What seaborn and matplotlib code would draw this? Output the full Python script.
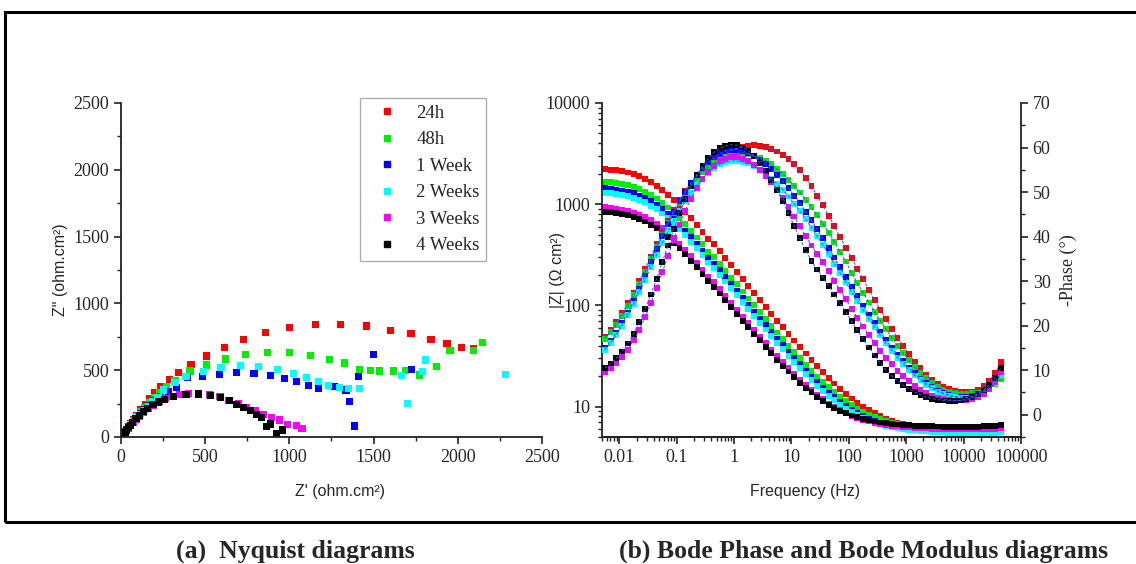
import numpy as np
import pandas as pd
import matplotlib
matplotlib.use('Agg')
import matplotlib.pyplot as plt
from matplotlib.lines import Line2D
from matplotlib.patches import Rectangle
from matplotlib.ticker import LogLocator, NullFormatter, MultipleLocator
import seaborn as sns

labels = ['24h', '48h', '1 Week', '2 Weeks', '3 Weeks', '4 Weeks']
colors = ['#ff0000', '#00ee00', '#0000ff', '#00ffff', '#ff00ff', '#000000']

# ---- Nyquist data (Z', Z'') ----
red_re = [6, 9, 13, 18, 25, 34, 45, 58, 74, 93, 116, 143, 170, 200, 236, 287, 344, 416, 507, 613,
          726, 857, 1000, 1154, 1306, 1457, 1600, 1722, 1841, 1936, 2023, 2096]
red_im = [3, 8, 15, 25, 39, 56, 77, 101, 130, 164, 203, 245, 285, 330, 377, 432, 481, 544, 606, 671,
          731, 783, 821, 843, 841, 831, 798, 773, 731, 699, 669, 664]
green_re = [6, 9, 13, 18, 25, 34, 45, 58, 74, 93, 115, 140, 167, 197, 230, 271, 321, 410, 509, 618,
            738, 871, 1000, 1124, 1237, 1330, 1415, 1483, 1534, 1617, 1690, 1770, 1875, 1954, 2092, 2148]
green_im = [3, 8, 14, 24, 37, 53, 73, 96, 123, 154, 188, 222, 258, 297, 336, 377, 421, 494, 539, 584,
            616, 634, 634, 609, 581, 554, 507, 501, 494, 494, 501, 464, 531, 644, 644, 706]
blue_re = [6, 9, 13, 18, 25, 34, 45, 58, 74, 93, 115, 140, 168, 200, 236, 280, 327, 394, 483, 584,
           687, 790, 887, 970, 1043, 1112, 1174, 1267, 1336, 1356, 1386, 1409, 1498, 1726]
blue_im = [3, 8, 14, 24, 37, 53, 72, 94, 119, 147, 177, 208, 239, 271, 303, 337, 372, 447, 452, 469,
           481, 477, 462, 437, 412, 387, 364, 377, 352, 267, 82, 452, 614, 507]
cyan_re = [6, 9, 13, 18, 25, 34, 45, 58, 74, 93, 114, 138, 163, 190, 220, 251, 321, 386, 489, 594,
           707, 819, 928, 1023, 1103, 1172, 1231, 1296, 1350, 1419, 1667, 1702, 1789, 1811, 2286]
cyan_im = [3, 8, 14, 23, 36, 51, 70, 91, 115, 142, 170, 200, 231, 262, 294, 352, 407, 452, 489, 519,
           534, 526, 507, 477, 447, 412, 387, 372, 364, 364, 457, 254, 492, 576, 469]
mag_re = [6, 9, 13, 18, 25, 34, 45, 57, 72, 90, 111, 135, 162, 192, 226, 263, 304, 350, 400, 460,
          528, 588, 637, 697, 746, 796, 845, 895, 944, 988, 1043, 1075]
mag_im = [3, 8, 14, 22, 34, 48, 65, 85, 107, 131, 157, 184, 211, 238, 263, 285, 303, 317, 326, 327,
          319, 302, 272, 247, 222, 195, 165, 145, 127, 95, 85, 65]
black_re = [6, 9, 13, 18, 24, 33, 44, 56, 71, 89, 110, 133, 160, 190, 222, 261, 311, 386, 463, 534,
            592, 647, 687, 730, 770, 806, 835, 865, 889, 924, 958]
black_im = [3, 8, 14, 23, 35, 50, 68, 88, 111, 136, 162, 189, 215, 240, 262, 281, 300, 318, 322, 312,
            297, 272, 242, 222, 195, 170, 147, 77, 97, 27, 52]

# ---- Bode data ----
freq = [0.00562, 0.00708, 0.00891,
        0.0112, 0.0141, 0.0178, 0.0224, 0.0282, 0.0355, 0.0447, 0.0562, 0.0708, 0.0891,
        0.112, 0.141, 0.178, 0.224, 0.282, 0.355, 0.447, 0.562, 0.708, 0.891,
        1.12, 1.41, 1.78, 2.24, 2.82, 3.55, 4.47, 5.62, 7.08, 8.91,
        11.2, 14.1, 17.8, 22.4, 28.2, 35.5, 44.7, 56.2, 70.8, 89.1,
        112, 141, 178, 224, 282, 355, 447, 562, 708, 891,
        1120, 1410, 1780, 2240, 2820, 3550, 4470, 5620, 7080, 8910,
        11200, 14100, 17800, 22400, 28200, 35500, 44700]

mod_24h = [2225, 2198, 2160, 2114, 2054, 1978, 1886, 1778, 1655, 1522,
           1381, 1238, 1099, 967, 842, 728, 625, 534, 453, 400,
           342, 293, 250, 214, 182, 155, 132.5, 113, 96.7, 82.7,
           70.7, 60.6, 52.2, 44.9, 38.7, 33.4, 28.9, 25.1, 21.9, 19.2,
           16.9, 15.0, 13.4, 12.0, 10.9, 9.96, 9.19, 8.55, 8.03, 7.60,
           7.24, 6.96, 6.72, 6.53, 6.37, 6.24, 6.13, 6.03, 5.96, 5.90,
           5.85, 5.81, 5.78, 5.76, 5.75, 5.75, 5.76, 5.78, 5.82, 5.88]
mod_48h = [1665, 1645, 1617, 1582, 1537, 1480, 1411, 1331, 1239, 1139,
           1034, 927, 823, 724, 631, 545, 468, 400, 340, 300,
           257, 220, 188, 161, 137, 117, 99.9, 85.4, 73.1, 62.6,
           53.9, 46.4, 40.0, 34.5, 29.9, 25.9, 22.6, 19.8, 17.5, 15.5,
           13.8, 12.4, 11.3, 10.3, 9.50, 8.85, 8.31, 7.86, 7.50, 7.21,
           6.96, 6.77, 6.60, 6.47, 6.36, 6.27, 6.19, 6.12, 6.06, 6.01,
           5.97, 5.94, 5.92, 5.90, 5.89, 5.89, 5.90, 5.91, 5.93, 5.96]
mod_1w = [1436, 1419, 1395, 1365, 1326, 1277, 1218, 1148, 1069, 983,
          892, 800, 710, 625, 544, 471, 404, 345, 293, 259,
          222, 190, 162, 139, 118, 101, 86.4, 73.8, 63.3, 54.4,
          46.8, 40.3, 34.7, 30.1, 26.1, 22.7, 19.8, 17.5, 15.4, 13.7,
          12.3, 11.1, 10.1, 9.31, 8.63, 8.07, 7.61, 7.25, 6.95, 6.70,
          6.48, 6.32, 6.17, 6.05, 5.95, 5.86, 5.79, 5.73, 5.68, 5.65,
          5.62, 5.60, 5.59, 5.58, 5.58, 5.58, 5.59, 5.60, 5.62, 5.65]
mod_2w = [1302, 1286, 1264, 1237, 1202, 1157, 1104, 1040, 968, 891,
          808, 724, 643, 566, 493, 426, 366, 313, 265, 234,
          201, 172, 147, 126, 107.5, 91.8, 78.5, 67.1, 57.7, 49.6,
          42.6, 36.8, 31.7, 27.5, 23.8, 20.8, 18.3, 16.1, 14.3, 12.8,
          11.5, 10.4, 9.52, 8.79, 8.19, 7.70, 7.28, 6.96, 6.68, 6.46,
          6.28, 6.13, 6.00, 5.89, 5.80, 5.72, 5.66, 5.61, 5.57, 5.54,
          5.51, 5.49, 5.48, 5.47, 5.47, 5.47, 5.48, 5.49, 5.51, 5.54]
mod_3w = [930, 918, 903, 883, 858, 827, 788, 743, 692, 636,
          578, 518, 460, 405, 353, 305, 262, 224, 191, 169,
          144, 123.5, 105.6, 90.6, 77.5, 66.3, 57.1, 49.1, 42.3, 36.5,
          31.5, 27.4, 23.9, 20.9, 18.3, 16.3, 14.5, 13.0, 11.8, 10.7,
          9.86, 9.16, 8.59, 8.11, 7.72, 7.40, 7.14, 6.93, 6.75, 6.60,
          6.47, 6.37, 6.28, 6.21, 6.15, 6.10, 6.06, 6.03, 6.00, 5.98,
          5.96, 5.95, 5.94, 5.94, 5.94, 5.95, 5.97, 6.00, 6.04, 6.10]
mod_4w = [843, 833, 819, 801, 778, 750, 715, 674, 627, 577,
          524, 470, 417, 367, 320, 277, 238, 204, 173, 153,
          131, 112.4, 96.2, 82.6, 70.7, 60.9, 52.2, 45.0, 38.8, 33.6,
          29.1, 25.4, 22.2, 19.5, 17.2, 15.3, 13.8, 12.5, 11.4, 10.4,
          9.69, 9.07, 8.56, 8.15, 7.81, 7.52, 7.30, 7.11, 6.96, 6.83,
          6.73, 6.64, 6.57, 6.51, 6.46, 6.42, 6.39, 6.36, 6.34, 6.32,
          6.31, 6.30, 6.30, 6.30, 6.31, 6.33, 6.36, 6.40, 6.45, 6.52]

ph_24h = [17.5, 19.0, 20.8, 22.8, 25.0, 27.4, 30.0, 32.7, 35.5, 38.3,
          41.0, 43.6, 46.0, 48.2, 50.2, 52.0, 53.6, 55.0, 56.2, 57.2,
          58.0, 58.7, 59.3, 59.8, 60.2, 60.4, 60.5, 60.4, 60.1, 59.7,
          59.1, 58.4, 57.5, 56.3, 54.9, 53.2, 51.3, 49.2, 47.0, 44.7,
          42.3, 39.9, 37.5, 35.2, 32.8, 30.4, 28.1, 25.8, 23.6, 21.4,
          19.3, 17.3, 15.4, 13.6, 11.9, 10.4, 9.0, 7.8, 6.9, 6.2,
          5.7, 5.4, 5.2, 5.1, 5.2, 5.6, 6.4, 7.6, 9.3, 11.8]
ph_48h = [17.0, 18.5, 20.2, 22.2, 24.4, 26.8, 29.4, 32.1, 34.9, 37.7,
          40.4, 43.0, 45.4, 47.6, 49.6, 51.4, 53.0, 54.4, 55.6, 56.6,
          57.4, 58.0, 58.4, 58.7, 58.8, 58.6, 58.2, 57.7, 57.0, 56.2,
          55.2, 54.1, 52.8, 51.4, 49.9, 48.3, 46.6, 44.8, 42.9, 40.9,
          38.8, 36.6, 34.4, 31.8, 29.6, 27.4, 25.2, 23.1, 21.1, 19.2,
          17.3, 15.5, 13.8, 12.2, 10.7, 9.4, 8.2, 7.2, 6.3, 5.6,
          5.1, 4.8, 4.7, 4.7, 4.8, 5.0, 5.4, 6.0, 6.8, 7.9]
ph_1w = [15.0, 16.6, 18.4, 20.5, 22.9, 25.5, 28.3, 31.2, 34.2, 37.2,
         40.1, 42.9, 45.5, 47.9, 50.1, 52.1, 53.9, 55.4, 56.7, 57.8,
         58.6, 59.2, 59.5, 59.5, 59.2, 58.7, 58.0, 57.2, 56.2, 55.1,
         53.8, 52.4, 50.9, 49.2, 47.5, 45.6, 43.7, 41.7, 39.6, 37.5,
         35.3, 33.1, 30.9, 28.7, 26.6, 24.5, 22.5, 20.5, 18.6, 16.8,
         15.1, 13.5, 12.0, 10.6, 9.3, 8.1, 7.1, 6.2, 5.4, 4.8,
         4.4, 4.1, 4.0, 4.0, 4.2, 4.6, 5.2, 6.1, 7.3, 9.0]
ph_2w = [14.5, 16.1, 17.9, 20.0, 22.3, 24.8, 27.5, 30.3, 33.1, 35.9,
         38.6, 41.2, 43.6, 45.8, 47.9, 49.8, 51.5, 53.0, 54.3, 55.4,
         56.2, 56.7, 57.0, 57.0, 56.8, 56.4, 55.8, 55.0, 54.1, 53.0,
         51.8, 50.5, 49.0, 47.4, 45.7, 43.9, 42.0, 40.1, 38.1, 36.0,
         33.9, 31.8, 29.7, 27.6, 25.5, 23.5, 21.5, 19.6, 17.8, 16.0,
         14.4, 12.8, 11.4, 10.0, 8.8, 7.7, 6.7, 5.9, 5.2, 4.6,
         4.2, 3.9, 3.8, 3.8, 4.0, 4.4, 5.0, 5.9, 7.1, 8.8]
ph_3w = [9.5, 10.4, 11.5, 12.9, 14.6, 16.7, 19.1, 21.9, 25.0, 28.4,
         32.0, 35.7, 39.3, 42.7, 45.8, 48.5, 50.9, 52.9, 54.6, 55.9,
         56.9, 57.5, 57.8, 57.8, 57.5, 56.9, 56.1, 55.0, 53.7, 52.2,
         50.5, 48.6, 46.6, 44.5, 42.3, 40.1, 38.0, 36.1, 34.2, 32.2,
         30.1, 28.0, 25.9, 23.8, 21.8, 19.8, 17.9, 16.1, 14.4, 12.8,
         11.3, 9.9, 8.6, 7.5, 6.5, 5.6, 4.9, 4.3, 3.8, 3.5,
         3.3, 3.2, 3.2, 3.3, 3.6, 4.0, 4.7, 5.7, 7.3, 9.5]
ph_4w = [10.5, 11.5, 12.7, 14.2, 16.0, 18.2, 20.8, 23.7, 27.0, 30.5,
         34.2, 38.0, 41.7, 45.2, 48.4, 51.3, 53.8, 55.9, 57.6, 58.9,
         59.8, 60.3, 60.6, 60.5, 60.0, 59.3, 58.1, 56.6, 54.8, 52.7,
         50.4, 47.9, 45.2, 42.4, 39.6, 36.9, 34.5, 32.6, 30.8, 28.9,
         27.0, 25.0, 23.0, 21.0, 19.0, 17.0, 15.1, 13.3, 11.6, 10.0,
         8.7, 7.6, 6.6, 5.8, 5.1, 4.5, 4.0, 3.6, 3.4, 3.2,
         3.1, 3.1, 3.2, 3.5, 3.9, 4.6, 5.5, 6.7, 8.3, 10.4]

nyq_re = [red_re, green_re, blue_re, cyan_re, mag_re, black_re]
nyq_im = [red_im, green_im, blue_im, cyan_im, mag_im, black_im]
mods = [mod_24h, mod_48h, mod_1w, mod_2w, mod_3w, mod_4w]
phases = [ph_24h, ph_48h, ph_1w, ph_2w, ph_3w, ph_4w]

nyq = pd.concat([pd.DataFrame({'Zre': r, 'Zim': i, 'time': lab})
                 for r, i, lab in zip(nyq_re, nyq_im, labels)], ignore_index=True)
bode = pd.concat([pd.DataFrame({'freq': freq, 'mod': m, 'phase': p, 'time': lab})
                  for m, p, lab in zip(mods, phases, labels)], ignore_index=True)

sns.set_style('ticks')
plt.rcParams['font.family'] = ['Liberation Serif', 'DejaVu Sans']
sans = {'family': ['Liberation Sans', 'DejaVu Sans'], 'size': 11.5}

fig = plt.figure(figsize=(11.36, 5.64), dpi=100)
ax1 = fig.add_axes([0.1065, 0.2252, 0.3706, 0.5922])
ax2 = fig.add_axes([0.5299, 0.2252, 0.3688, 0.5922])

# ---- (a) Nyquist ----
sns.scatterplot(data=nyq, x='Zre', y='Zim', hue='time', hue_order=labels, palette=colors,
                marker='s', s=26, linewidth=0, ax=ax1, legend=False)
ax1.set_xlim(0, 2500)
ax1.set_ylim(0, 2500)
ax1.xaxis.set_major_locator(MultipleLocator(500))
ax1.xaxis.set_minor_locator(MultipleLocator(250))
ax1.yaxis.set_major_locator(MultipleLocator(500))
ax1.yaxis.set_minor_locator(MultipleLocator(250))
sns.despine(ax=ax1)
ax1.set_xlabel("Z' (ohm.cm²)", fontdict=sans)
ax1.set_ylabel('Z" (ohm.cm²)', fontdict=sans)
ax1.xaxis.set_label_coords(0.52, -0.14)
ax1.yaxis.set_label_coords(-0.125, 0.5)

handles = [Line2D([], [], marker='s', ls='', color=c, ms=4.5) for c in colors]
leg = ax1.legend(handles, labels, loc='upper left', bbox_to_anchor=(0.568, 1.015),
                 frameon=True, fancybox=False, edgecolor='#999999', fontsize=13.5,
                 handlelength=2.2, handletextpad=0.45, labelspacing=0.5, borderpad=0.35,
                 borderaxespad=0)
leg.get_frame().set_linewidth(1.0)

# ---- (b) Bode ----
ax2.set_xscale('log')
ax2.set_yscale('log')
sns.scatterplot(data=bode, x='freq', y='mod', hue='time', hue_order=labels, palette=colors,
                marker='s', s=18, linewidth=0, ax=ax2, legend=False)
ax3 = ax2.twinx()
sns.lineplot(data=bode, x='freq', y='phase', units='time', estimator=None, color='#3355ff',
             linestyle=(0, (3, 2)), linewidth=0.7, ax=ax3, legend=False)
sns.scatterplot(data=bode, x='freq', y='phase', hue='time', hue_order=labels, palette=colors,
                marker='s', s=18, linewidth=0, ax=ax3, legend=False)

ax2.set_xlim(0.005, 100000)
ax2.set_ylim(5, 10000)
ax3.set_ylim(-5, 70)
xt = [0.01, 0.1, 1, 10, 100, 1000, 10000, 100000]
ax2.set_xticks(xt)
ax2.set_xticklabels(['0.01', '0.1', '1', '10', '100', '1000', '10000', '100000'])
ax2.xaxis.set_minor_locator(LogLocator(base=10, subs=np.arange(2, 10), numticks=100))
ax2.xaxis.set_minor_formatter(NullFormatter())
ax2.set_yticks([10, 100, 1000, 10000])
ax2.set_yticklabels(['10', '100', '1000', '10000'])
ax2.yaxis.set_minor_locator(LogLocator(base=10, subs=np.arange(2, 10), numticks=100))
ax2.yaxis.set_minor_formatter(NullFormatter())
ax3.yaxis.set_major_locator(MultipleLocator(10))
ax3.yaxis.set_minor_locator(MultipleLocator(5))

ax2.spines['top'].set_visible(False)
ax2.spines['right'].set_visible(False)
ax3.spines['top'].set_visible(False)
ax3.spines['left'].set_visible(False)

ax2.set_xlabel('Frequency (Hz)', fontdict=sans)
ax2.set_ylabel('|Z| (Ω cm²)', fontdict=sans)
ax3.set_ylabel('-Phase (°)', fontsize=13)
ax2.xaxis.set_label_coords(0.485, -0.14)
ax2.yaxis.set_label_coords(-0.088, 0.5)
ax3.yaxis.set_label_coords(1.093, 0.5)

for ax in (ax1, ax2, ax3):
    ax.tick_params(which='major', length=5, width=1.2, labelsize=13, color='#222222')
    ax.tick_params(which='minor', length=3, width=1.0, color='#222222')
    for sp in ax.spines.values():
        sp.set_linewidth(1.3)
        sp.set_color('#222222')

# outer frame and captions
fig.patches.append(Rectangle((5 / 1136, 1 - 522 / 564), 1140 / 1136, 510 / 564, fill=False,
                             lw=2.2, edgecolor='black', transform=fig.transFigure))
fig.text(295 / 1136, 1 - 551 / 564, '(a)  Nyquist diagrams', ha='center', va='center',
         fontsize=18.5, fontweight='bold')
fig.text(864 / 1136, 1 - 551 / 564, '(b) Bode Phase and Bode Modulus diagrams', ha='center',
         va='center', fontsize=18.5, fontweight='bold')

fig.savefig('out.png', dpi=100)
